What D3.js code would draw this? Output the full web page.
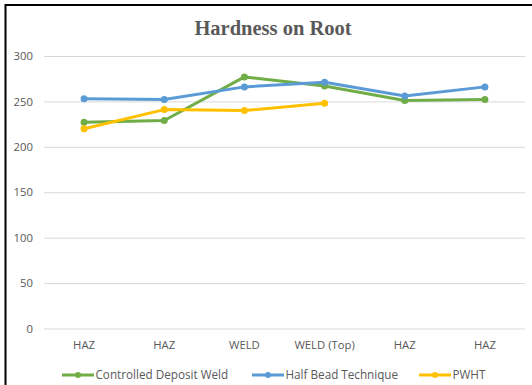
<!DOCTYPE html>
<html><head><meta charset="utf-8">
<script src="https://cdn.jsdelivr.net/npm/d3@7"></script>
<style>body{margin:0;background:#fff}svg{display:block}</style>
</head><body>
<svg id="c" width="532" height="385"></svg>
<script>
const categories = ["HAZ","HAZ","WELD","WELD (Top)","HAZ","HAZ"];
const seriesNames = ["Controlled Deposit Weld","Half Bead Technique","PWHT"];
const controlledDeposit = [227, 229, 277, 267, 251, 252];
const halfBead = [253, 252, 266, 271, 256, 266];
const pwht = [220, 241, 240, 248, null, null];
const yTicks = [0, 50, 100, 150, 200, 250, 300];
const colors = ["#70AD47", "#5B9BD5", "#FFC000"];

(function(){
const series = [controlledDeposit, halfBead, pwht];
const svg = d3.select("#c");
const font = "'Open Sans', 'Liberation Sans', sans-serif";
const mLeft = 44, mRight = 525, mTop = 56, mBottom = 328.5;

const x = d3.scaleBand().domain(d3.range(categories.length)).range([mLeft, mRight]);
const y = d3.scaleLinear().domain([0, 300]).range([mBottom, mTop]);

// border
svg.append("path").attr("d", `M5.5,385 L5.5,5 L532,5`).attr("fill","none").attr("stroke","#000").attr("stroke-width",2);

// title
svg.append("text").attr("x", 273).attr("y", 35).attr("text-anchor","middle")
  .attr("font-family","'Liberation Serif', 'Times New Roman', serif").attr("font-weight","bold")
  .attr("font-size", 20.5).attr("fill","#595959").text("Hardness on Root");

// gridlines
const yAxis = d3.axisLeft(y).tickValues(yTicks).tickSize(-(mRight-mLeft)).tickPadding(11);
const gy = svg.append("g").attr("transform", `translate(${mLeft},0)`).call(yAxis);
gy.select(".domain").remove();
gy.selectAll(".tick line").attr("stroke","#D9D9D9").attr("stroke-width",1);
gy.selectAll(".tick text").attr("font-family",font).attr("font-size",11.3).attr("fill","#595959");

// x axis labels
const xAxis = d3.axisBottom(x).tickFormat(i => categories[i]).tickSize(0).tickPadding(12);
const gx = svg.append("g").attr("transform", `translate(0,${mBottom})`).call(xAxis);
gx.select(".domain").remove();
gx.selectAll(".tick text").attr("font-family",font).attr("font-size",11.3).attr("fill","#595959");

// lines
const line = d3.line().defined(d => d != null).x((d,i) => x(i) + x.bandwidth()/2).y(d => y(d));
series.forEach((s, k) => {
  svg.append("path").datum(s).attr("d", line).attr("fill","none")
    .attr("stroke", colors[k]).attr("stroke-width", 3).attr("stroke-linejoin","round").attr("stroke-linecap","round");
  svg.append("g").selectAll("circle").data(s.map((v,i)=>({v,i})).filter(d=>d.v!=null)).join("circle")
    .attr("cx", d => x(d.i) + x.bandwidth()/2).attr("cy", d => y(d.v)).attr("r", 3.5).attr("fill", colors[k]);
});

// legend
const legX = [62, 252, 419];
seriesNames.forEach((n, k) => {
  const g = svg.append("g").attr("transform", `translate(${legX[k]},375)`);
  g.append("line").attr("x1",0).attr("x2",32).attr("y1",0).attr("y2",0).attr("stroke",colors[k]).attr("stroke-width",3);
  g.append("circle").attr("cx",16).attr("cy",0).attr("r",3).attr("fill",colors[k]);
  g.append("text").attr("x",33.5).attr("y",0).attr("dy","0.35em").attr("font-family",font).attr("font-size",11.7)
    .attr("fill","#595959").text(n);
});
})();
</script>
</body></html>
